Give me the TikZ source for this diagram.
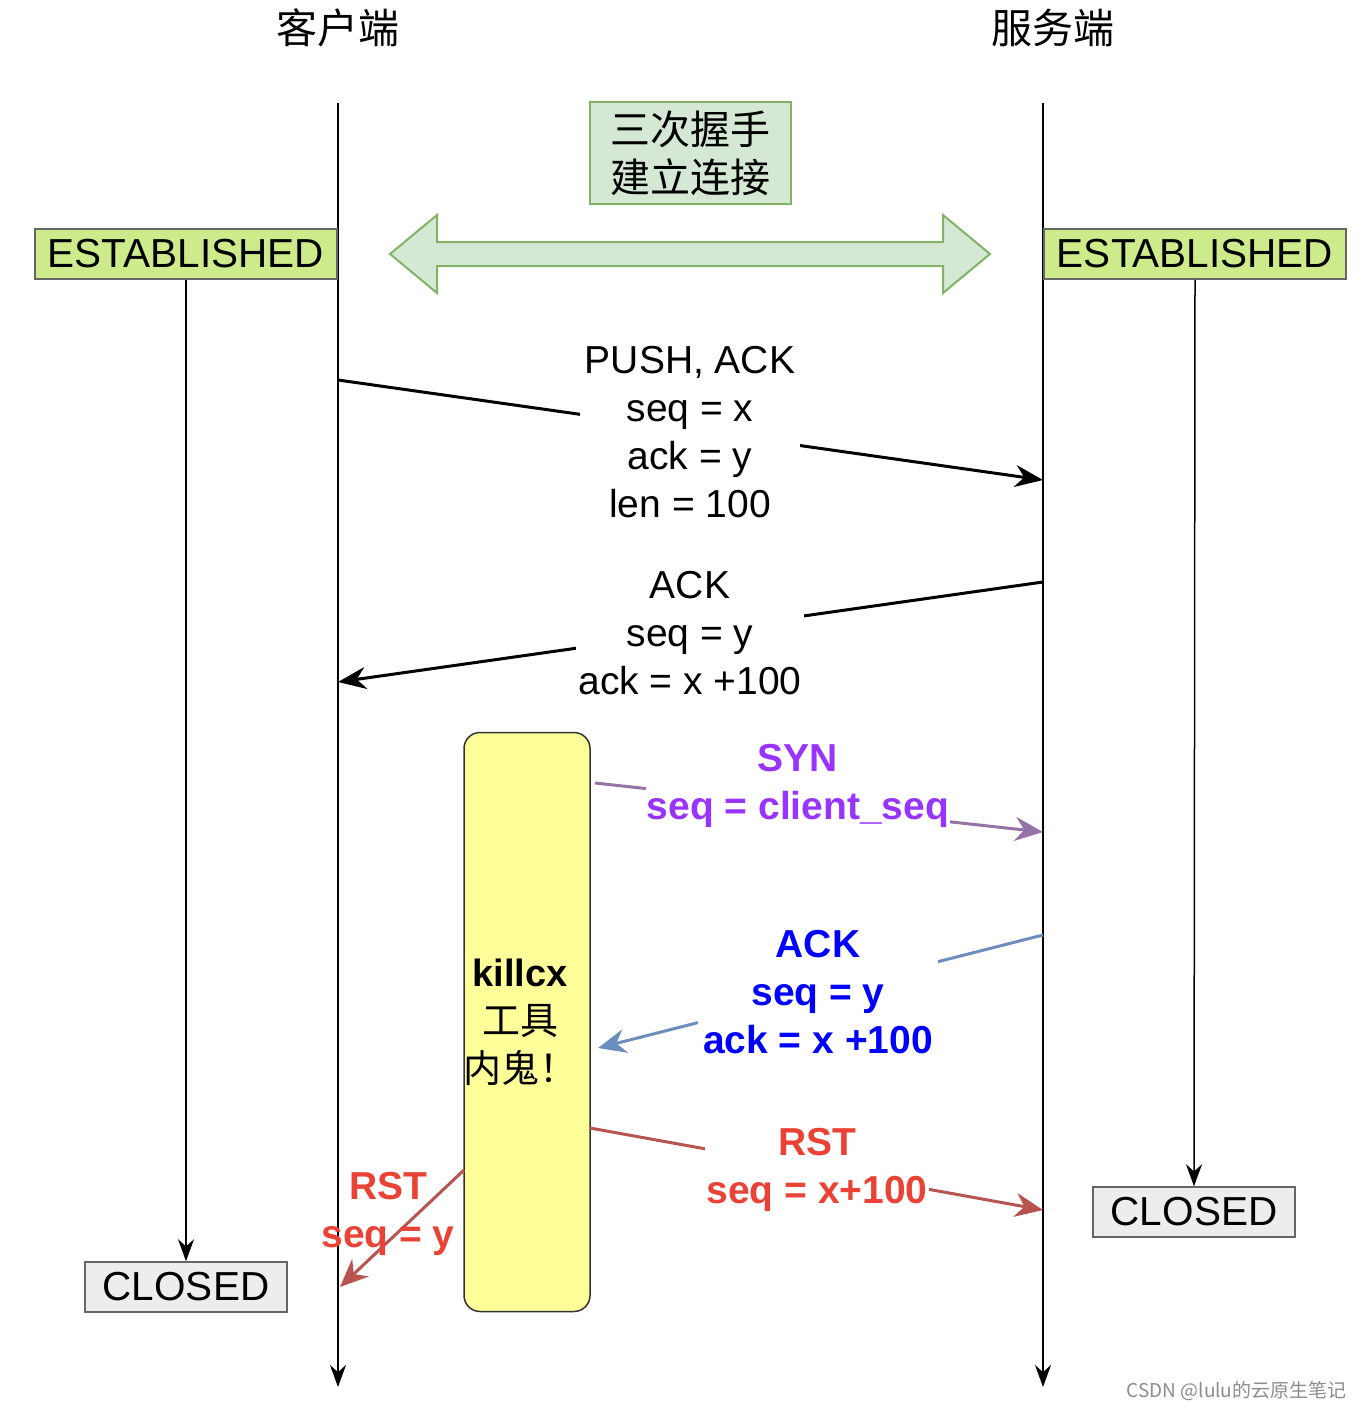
\documentclass[tikz,border=0pt]{standalone}
\usepackage{fontspec}
\setmainfont{Liberation Sans}
\newfontfamily\cjk{Noto Sans CJK SC}
\usetikzlibrary{arrows.meta}
\definecolor{estg}{HTML}{CDEB8B}
\definecolor{lg}{HTML}{D5E8D4}
\definecolor{dg}{HTML}{82B366}
\definecolor{pur}{HTML}{9673A6}
\definecolor{purt}{HTML}{9933FF}
\definecolor{blu}{HTML}{6C8EBF}
\definecolor{red1}{HTML}{B85450}
\definecolor{redt}{HTML}{EA4335}
\definecolor{yel}{HTML}{FFFF99}
\begin{document}
\begin{tikzpicture}[x=1pt,y=-1pt,
  state/.style={draw=black!60,line width=1.5pt,minimum width=302pt,minimum height=50pt,inner sep=0pt,font=\fontsize{40.5}{44}\selectfont},
  lab/.style={fill=white,align=center,inner sep=2pt,font=\fontsize{39}{48}\selectfont},
  blab/.style={lab,font=\bfseries\fontsize{39}{48}\selectfont},
  life/.style={line width=1.5pt,-{Stealth[length=22pt,width=16pt]}},
  msg/.style={line width=3pt,-{Stealth[length=28pt,width=22pt]}},
  cmsg/.style={line width=3pt,-{Stealth[length=28pt,width=24pt]}}]
\useasboundingbox (0,0) rectangle (1364,1410);
\node[font=\cjk\fontsize{41}{44}\selectfont] (hc) at (338,28) {客户端};
\node[font=\cjk\fontsize{41}{44}\selectfont] (hs) at (1053,28) {服务端};
\coordinate (ct) at (338,103); \coordinate (cb) at (338,1387);
\coordinate (st) at (1043,103); \coordinate (sb) at (1043,1387);
\draw[life] (ct) -- (cb);
\draw[life] (st) -- (sb);
\node[state,fill=estg] (el) at (186,254) {ESTABLISHED};
\node[state,fill=estg] (er) at (1195,254) {ESTABLISHED};
\node[state,fill=black!7,minimum width=202pt] (cl) at (186,1287) {CLOSED};
\node[state,fill=black!7,minimum width=202pt] (cr) at (1194,1212) {CLOSED};
\draw[life] (el.south) -- (cl.north);
\draw[life] (er.south) -- (cr.north);
\node[draw=dg,fill=lg,line width=2pt,minimum width=201pt,minimum height=101pt,align=center,font=\cjk\fontsize{40}{48}\selectfont] (hs3) at (690,153) {三次握手\\建立连接};
\draw[draw=dg,fill=lg,line width=2pt] (390,254) -- (437,215) -- (437,242) -- (943,242) -- (943,215) -- (990,254) -- (943,293) -- (943,266) -- (437,266) -- (437,293) -- cycle;
\coordinate (p1) at (338,380); \coordinate (p2) at (1043,480);
\draw[msg] (p1) -- (p2);
\node[lab,minimum width=220pt] (pl) at (690,432) {PUSH, ACK\\seq = x\\ack = y\\len = 100};
\coordinate (a1) at (1043,582); \coordinate (a2) at (338,682);
\draw[msg] (a1) -- (a2);
\node[lab,minimum width=228pt] (al) at (690,633) {ACK\\seq = y\\ack = x +100};
\node[draw=black!80,fill=yel,line width=1.5pt,rounded corners=16pt,minimum width=126pt,minimum height=579pt] (kx) at (527,1022) {};
\node[align=center,font=\fontsize{38}{48}\selectfont] (kt) at (520,1022) {\textbf{killcx}\\ {\cjk 工具}\\ {\cjk 内鬼！}};
\coordinate (s1) at (595,783); \coordinate (s2) at (1043,832);
\draw[cmsg,draw=pur] (s1) -- (s2);
\node[blab,text=purt,inner sep=1pt] (sl) at (798,786) {SYN\\seq = client\_seq};
\coordinate (b1) at (1043,935); \coordinate (b2) at (598,1048);
\draw[cmsg,draw=blu] (b1) -- (b2);
\node[blab,text=blue,minimum width=240pt] (bl) at (818,992) {ACK\\seq = y\\ack = x +100};
\coordinate (r1) at (590,1128); \coordinate (r2) at (1043,1210);
\draw[cmsg,draw=red1] (r1) -- (r2);
\node[blab,text=redt,inner sep=1pt] (rl) at (817,1170) {RST\\seq = x+100};
\coordinate (q1) at (464,1170); \coordinate (q2) at (340,1287);
\draw[cmsg,draw=red1] (q1) -- (q2);
\node[align=center,text=redt,font=\bfseries\fontsize{39}{48}\selectfont] (ql) at (388,1214) {RST\\seq = y};
\node[text=black!45,font=\cjk\fontsize{19}{20}\selectfont,anchor=east] (wm) at (1350,1391) {CSDN @lulu的云原生笔记};
\end{tikzpicture}
\end{document}
